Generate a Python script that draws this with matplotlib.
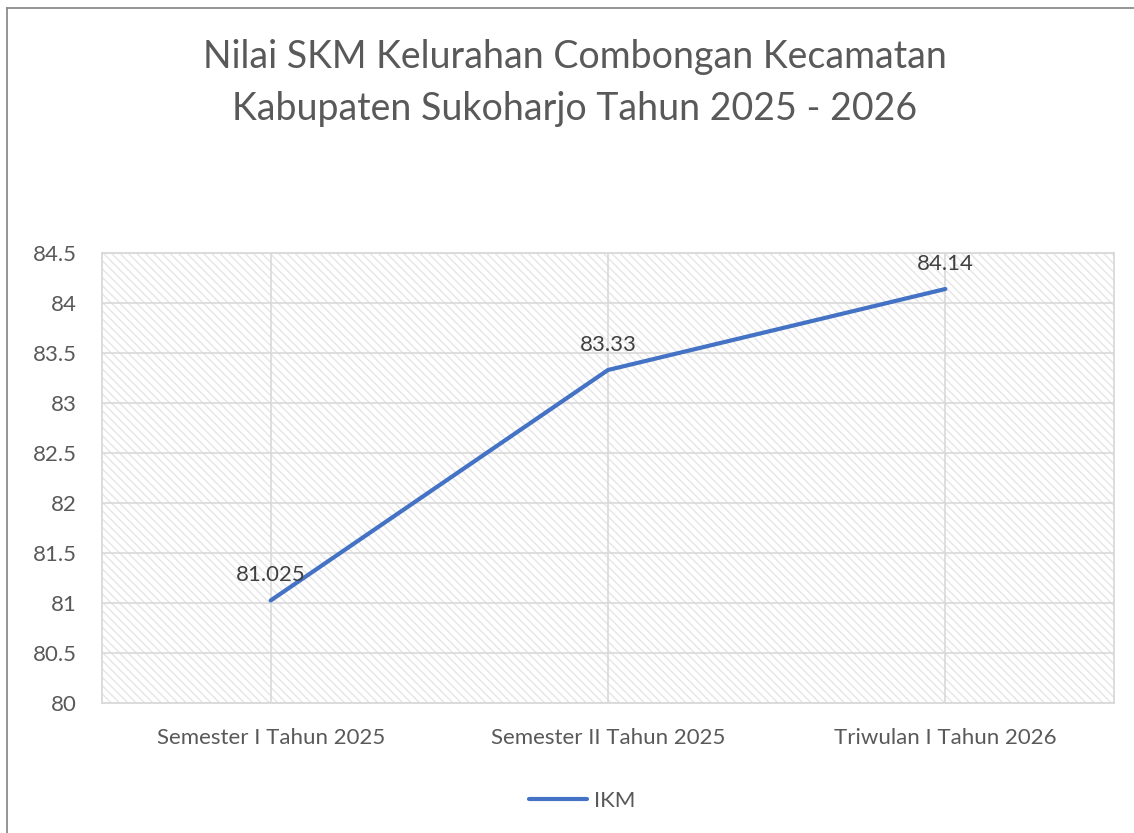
import matplotlib.pyplot as plt
from matplotlib.patches import Rectangle
from matplotlib.lines import Line2D

# data
kategori = ["Semester I Tahun 2025", "Semester II Tahun 2025", "Triwulan I Tahun 2026"]
nilai_ikm = [81.025, 83.33, 84.14]
label_nilai = ["81.025", "83.33", "84.14"]
y_ticks = [80, 80.5, 81, 81.5, 82, 82.5, 83, 83.5, 84, 84.5]
y_ticklabels = ["80", "80.5", "81", "81.5", "82", "82.5", "83", "83.5", "84", "84.5"]

plt.rcParams['font.family'] = ['Lato', 'DejaVu Sans']
plt.rcParams['hatch.linewidth'] = 1.0

teks = '#595959'
grid = '#d9d9d9'

fig = plt.figure(figsize=(11.34, 8.33), dpi=100)
ax = fig.add_axes([102 / 1134, 1 - 703 / 833, 1012 / 1134, 450 / 833])

# latar bergaris miring
bg = Rectangle((0, 0), 1, 1, transform=ax.transAxes, facecolor='white',
               edgecolor='#e6e6e6', hatch='\\\\\\\\', linewidth=0, zorder=0)
ax.add_patch(bg)

x = list(range(len(kategori)))
ax.plot(x, nilai_ikm, color='#4472C4', linewidth=3, solid_capstyle='round', label='IKM', zorder=3)

for xi, yi, lab in zip(x, nilai_ikm, label_nilai):
    ax.annotate(lab, (xi, yi), xytext=(0, 11), textcoords='offset points',
                ha='center', va='bottom', fontsize=16, color='#404040', zorder=4)

ax.set_xlim(-0.5, 2.5)
ax.set_ylim(80, 84.5)
ax.set_xticks(x)
ax.set_xticklabels(kategori)
ax.set_yticks(y_ticks)
ax.set_yticklabels(y_ticklabels)
ax.tick_params(axis='both', length=0, labelsize=16, labelcolor=teks)
ax.tick_params(axis='x', pad=18)
ax.tick_params(axis='y', pad=18)
ax.grid(True, color=grid, linewidth=1.2, zorder=1)
ax.set_axisbelow(True)
for s in ax.spines.values():
    s.set_color(grid)
    s.set_linewidth(1.3)

# judul
fig.text(575 / 1134, 1 - 83 / 833,
         "Nilai SKM Kelurahan Combongan Kecamatan\nKabupaten Sukoharjo Tahun 2025 - 2026",
         ha='center', va='center', fontsize=27, color=teks, linespacing=1.58)

# legenda
fig.legend(handles=[Line2D([], [], color='#4472C4', linewidth=3, solid_capstyle='round')],
           labels=['IKM'], loc='center', bbox_to_anchor=(582 / 1134, 1 - 801 / 833),
           frameon=False, fontsize=16, labelcolor=teks, handlelength=2.6, handletextpad=0.3)

# bingkai grafik (terpotong di kanan dan bawah)
fig.add_artist(Line2D([7 / 1134, 7 / 1134], [0, 1 - 8 / 833], transform=fig.transFigure,
                      color='#8c8c8c', linewidth=1.3))
fig.add_artist(Line2D([7 / 1134, 1], [1 - 8 / 833, 1 - 8 / 833], transform=fig.transFigure,
                      color='#8c8c8c', linewidth=1.3))

plt.savefig('out.png', dpi=100)
